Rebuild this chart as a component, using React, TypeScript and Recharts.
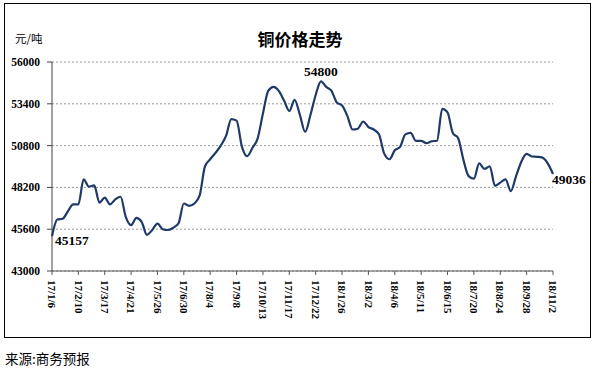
import React from 'react';
import { LineChart, Line, XAxis, YAxis, CartesianGrid } from 'recharts';

const categories = [
  '17/1/6', '17/1/13', '17/1/20', '17/1/27', '17/2/3', '17/2/10', '17/2/17', '17/2/24',
  '17/3/3', '17/3/10', '17/3/17', '17/3/24', '17/3/31', '17/4/7', '17/4/14', '17/4/21',
  '17/4/28', '17/5/5', '17/5/12', '17/5/19', '17/5/26', '17/6/2', '17/6/9', '17/6/16',
  '17/6/23', '17/6/30', '17/7/7', '17/7/14', '17/7/21', '17/7/28', '17/8/4', '17/8/11',
  '17/8/18', '17/8/25', '17/9/1', '17/9/8', '17/9/15', '17/9/22', '17/9/29', '17/10/6',
  '17/10/13', '17/10/20', '17/10/27', '17/11/3', '17/11/10', '17/11/17', '17/11/24', '17/12/1',
  '17/12/8', '17/12/15', '17/12/22', '17/12/29', '18/1/5', '18/1/12', '18/1/19', '18/1/26',
  '18/2/2', '18/2/9', '18/2/16', '18/2/23', '18/3/2', '18/3/9', '18/3/16', '18/3/23',
  '18/3/30', '18/4/6', '18/4/13', '18/4/20', '18/4/27', '18/5/4', '18/5/11', '18/5/18',
  '18/5/25', '18/6/1', '18/6/8', '18/6/15', '18/6/22', '18/6/29', '18/7/6', '18/7/13',
  '18/7/20', '18/7/27', '18/8/3', '18/8/10', '18/8/17', '18/8/24', '18/8/31', '18/9/7',
  '18/9/14', '18/9/21', '18/9/28', '18/10/5', '18/10/12', '18/10/19', '18/10/26', '18/11/2',
];

const prices = [
  45157, 46200, 46250, 46700, 47150, 47150, 48700, 48250,
  48320, 47250, 47560, 47150, 47450, 47620, 46350, 45850,
  46300, 46050, 45250, 45550, 45950, 45600, 45550, 45700,
  45970, 47200, 47050, 47200, 47700, 49500, 49950, 50350,
  50800, 51400, 52450, 52350, 50750, 50140, 50650, 51250,
  52800, 54200, 54450, 54200, 53600, 52950, 53650, 52720,
  51650, 52700, 53950, 54800, 54450, 54200, 53480, 53300,
  52650, 51800, 51850, 52300, 51950, 51800, 51500, 50300,
  49950, 50510, 50720, 51500, 51590, 51100, 51100, 50950,
  51070, 51100, 53090, 52860, 51590, 51277, 49934, 48900,
  48740, 49700, 49350, 49517, 48300, 48500, 48700, 47970,
  48900, 49800, 50286, 50120, 50100, 50050, 49700, 49036,
];

const yTicks = [43000, 45600, 48200, 50800, 53400, 56000];
const labelIndices = [0, 51, 95];
const titleText = '铜价格走势';
const unitText = '元/吨';
const sourceText = '来源:商务预报';

const data = categories.map((d, i) => ({ date: d, price: prices[i] }));

const serif = '"Liberation Serif", "Times New Roman", serif';
const cjk = '"Noto Sans CJK SC", sans-serif';

const XTick = (props: any) => {
  const { x, y, payload } = props;
  return (
    <text
      x={x}
      y={y}
      transform={`rotate(90, ${x}, ${y})`}
      textAnchor="start"
      dy="0.35em"
      fontFamily={serif}
      fontWeight="bold"
      fontSize={11}
      fill="#000"
    >
      {payload.value}
    </text>
  );
};

const renderLabel = (props: any) => {
  const { x, y, index, value } = props;
  if (!labelIndices.includes(index)) return null;
  let anchor: 'start' | 'middle' = 'start';
  let dx = 3;
  let dy = 9;
  if (index === labelIndices[1]) {
    anchor = 'middle';
    dx = 0;
    dy = -5;
  } else if (index === labelIndices[2]) {
    anchor = 'start';
    dx = -1;
    dy = 10.5;
  }
  return (
    <text
      key={`lbl-${index}`}
      x={x + dx}
      y={y + dy}
      textAnchor={anchor}
      fontFamily={serif}
      fontWeight="bold"
      fontSize={13.5}
      fill="#000"
    >
      {value}
    </text>
  );
};

export default function App() {
  return (
    <div style={{ position: 'absolute', left: 0, top: 0, width: 597, height: 373, background: '#fff' }}>
      <div
        style={{
          position: 'absolute',
          left: 4,
          top: 3,
          width: 587,
          height: 335,
          border: '1.5px solid #000',
          boxSizing: 'border-box',
        }}
      />
      <div style={{ position: 'absolute', left: 0, top: 0 }}>
        <LineChart
          width={597}
          height={373}
          data={data}
          margin={{ top: 62, right: 44, bottom: 42, left: 0 }}
        >
          <CartesianGrid
            vertical={false}
            stroke="#9a9a9a"
            strokeDasharray="2 2"
          />
          <XAxis
            dataKey="date"
            interval={4}
            height={60}
            tickSize={4}
            tickMargin={5}
            tick={<XTick />}
            axisLine={{ stroke: '#555', strokeWidth: 1 }}
            tickLine={{ stroke: '#555' }}
          />
          <YAxis
            width={52}
            domain={[43000, 56000]}
            ticks={yTicks}
            interval={0}
            tickSize={5}
            tickMargin={7}
            axisLine={{ stroke: '#444', strokeWidth: 1 }}
            tickLine={{ stroke: '#444' }}
            tick={{ fontFamily: serif, fontWeight: 'bold', fontSize: 11.5, fill: '#000' }}
          />
          <Line
            type="monotone"
            dataKey="price"
            stroke="#1f3a68"
            strokeWidth={2.2}
            dot={false}
            isAnimationActive={false}
            label={renderLabel}
          />
        </LineChart>
      </div>
      <svg
        width={597}
        height={373}
        style={{ position: 'absolute', left: 0, top: 0, pointerEvents: 'none' }}
      >
        <text x={300} y={46} textAnchor="middle" fontFamily={cjk} fontWeight="bold" fontSize={17} fill="#000">
          {titleText}
        </text>
        <text x={15} y={43} textAnchor="start" fontFamily={cjk} fontSize={11.5} fill="#000">
          {unitText}
        </text>
        <text x={5} y={364} textAnchor="start" fontFamily={cjk} fontSize={13.5} fill="#000">
          {sourceText}
        </text>
      </svg>
    </div>
  );
}
